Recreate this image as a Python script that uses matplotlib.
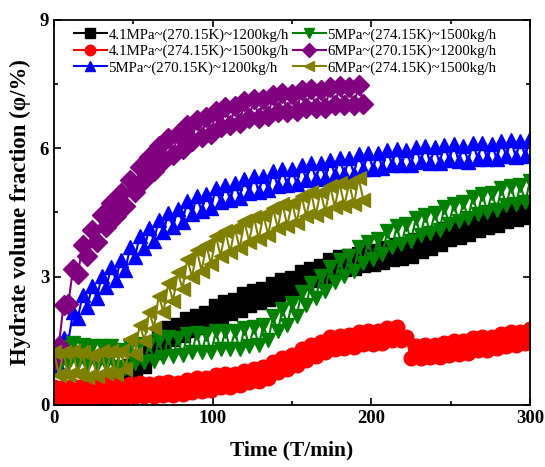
import matplotlib
matplotlib.use("Agg")
import matplotlib.pyplot as plt
from matplotlib.ticker import MultipleLocator

plt.rcParams['font.family'] = ['Liberation Serif', 'DejaVu Serif']

t_full = list(range(0, 301, 3))
t_short = list(range(0, 196, 3))

labels = ["4.1MPa~(270.15K)~1200kg/h", "4.1MPa~(274.15K)~1500kg/h",
          "5MPa~(270.15K)~1200kg/h", "5MPa~(274.15K)~1500kg/h",
          "6MPa~(270.15K)~1200kg/h", "6MPa~(274.15K)~1500kg/h"]

black_41_270 = [0.21, 0.00, 0.19, 0.00, 0.25, 0.00, 0.27, 0.00, 0.27, 0.01, 0.36, 0.16, 0.55, 0.36, 0.73,
                0.52, 0.90, 0.68, 1.08, 0.92, 1.38, 1.24, 1.68, 1.47, 1.81, 1.55, 1.88, 1.63, 2.00, 1.75,
                2.09, 1.82, 2.15, 1.94, 2.31, 2.07, 2.40, 2.14, 2.46, 2.22, 2.59, 2.34, 2.67, 2.41, 2.72,
                2.47, 2.83, 2.58, 2.92, 2.65, 2.97, 2.73, 3.10, 2.85, 3.19, 2.93, 3.26, 3.01, 3.38, 3.13,
                3.46, 3.17, 3.48, 3.20, 3.54, 3.27, 3.58, 3.29, 3.60, 3.34, 3.68, 3.41, 3.73, 3.44, 3.75,
                3.49, 3.85, 3.61, 3.94, 3.68, 4.01, 3.76, 4.12, 3.88, 4.20, 3.93, 4.25, 3.99, 4.35, 4.09,
                4.42, 4.15, 4.46, 4.21, 4.56, 4.30, 4.62, 4.34, 4.65, 4.39, 4.74]
red_41_274 = [0.41, 0.12, 0.41, 0.14, 0.45, 0.14, 0.45, 0.16, 0.46, 0.18, 0.51, 0.21, 0.49, 0.17, 0.45,
              0.17, 0.50, 0.21, 0.51, 0.20, 0.48, 0.20, 0.52, 0.24, 0.53, 0.23, 0.52, 0.25, 0.58, 0.31,
              0.62, 0.33, 0.63, 0.35, 0.69, 0.42, 0.72, 0.43, 0.73, 0.46, 0.80, 0.53, 0.85, 0.57, 0.89,
              0.64, 1.01, 0.77, 1.10, 0.84, 1.17, 0.93, 1.30, 1.05, 1.40, 1.15, 1.48, 1.23, 1.58, 1.31,
              1.62, 1.33, 1.64, 1.36, 1.70, 1.43, 1.73, 1.43, 1.73, 1.45, 1.79, 1.52, 1.82, 1.52, 1.58,
              1.09, 1.39, 1.09, 1.40, 1.11, 1.41, 1.13, 1.46, 1.18, 1.49, 1.20, 1.50, 1.22, 1.56, 1.28,
              1.58, 1.29, 1.59, 1.33, 1.67, 1.39, 1.70, 1.41, 1.71, 1.44, 1.78]
blue_5_270 = [0.93, 0.91, 1.56, 1.49, 2.17, 2.04, 2.56, 2.30, 2.77, 2.50, 3.01, 2.75, 3.22, 2.93, 3.39,
              3.15, 3.70, 3.45, 3.95, 3.67, 4.13, 3.84, 4.33, 4.04, 4.48, 4.16, 4.58, 4.28, 4.77, 4.46,
              4.88, 4.53, 4.93, 4.60, 5.07, 4.74, 5.15, 4.79, 5.18, 4.84, 5.29, 4.95, 5.35, 4.98, 5.36,
              5.02, 5.46, 5.12, 5.51, 5.14, 5.51, 5.16, 5.61, 5.26, 5.66, 5.28, 5.65, 5.30, 5.73, 5.38,
              5.77, 5.39, 5.77, 5.41, 5.86, 5.51, 5.90, 5.52, 5.88, 5.53, 5.97, 5.61, 5.99, 5.61, 5.97,
              5.61, 6.04, 5.67, 6.06, 5.66, 6.02, 5.66, 6.08, 5.72, 6.09, 5.70, 6.06, 5.69, 6.12, 5.76,
              6.13, 5.74, 6.10, 5.74, 6.17, 5.81, 6.19, 5.80, 6.16, 5.81, 6.24]
green_5_274 = [1.34, 0.91, 1.35, 0.95, 1.44, 1.01, 1.41, 0.94, 1.38, 0.94, 1.39, 0.96, 1.38, 0.89, 1.29,
               0.86, 1.37, 0.97, 1.43, 1.00, 1.43, 1.02, 1.53, 1.12, 1.58, 1.14, 1.57, 1.16, 1.66, 1.24,
               1.68, 1.23, 1.65, 1.23, 1.72, 1.30, 1.74, 1.30, 1.72, 1.30, 1.79, 1.38, 1.83, 1.40, 1.87,
               1.51, 2.07, 1.72, 2.24, 1.88, 2.39, 2.07, 2.65, 2.33, 2.86, 2.50, 3.01, 2.67, 3.23, 2.88,
               3.39, 3.01, 3.49, 3.14, 3.69, 3.33, 3.82, 3.42, 3.89, 3.52, 4.06, 3.69, 4.18, 3.76, 4.22,
               3.84, 4.36, 3.97, 4.44, 4.03, 4.49, 4.10, 4.62, 4.24, 4.71, 4.29, 4.74, 4.36, 4.87, 4.47,
               4.94, 4.52, 4.96, 4.56, 5.07, 4.67, 5.13, 4.70, 5.14, 4.74, 5.24]
purple_6_270 = [1.05, 1.38, 2.34, 2.36, 3.19, 3.06, 3.73, 3.49, 4.08, 3.81, 4.44, 4.16, 4.73, 4.41, 4.95,
                4.66, 5.27, 4.98, 5.57, 5.25, 5.79, 5.47, 6.05, 5.71, 6.23, 5.85, 6.34, 5.98, 6.54, 6.17,
                6.67, 6.26, 6.73, 6.34, 6.87, 6.49, 6.96, 6.54, 6.99, 6.59, 7.10, 6.70, 7.16, 6.72, 7.16,
                6.75, 7.25, 6.85, 7.29, 6.85, 7.28, 6.87, 7.36, 6.95, 7.39, 6.95, 7.37, 6.95, 7.44, 7.02,
                7.46, 7.01, 7.43, 7.01, 7.48, 7.03]
olive_6_274 = [1.24, 0.71, 1.23, 0.70, 1.26, 0.72, 1.23, 0.66, 1.17, 0.67, 1.26, 0.75, 1.27, 0.72, 1.26,
               0.83, 1.55, 1.19, 1.88, 1.50, 2.18, 1.81, 2.55, 2.18, 2.84, 2.43, 3.10, 2.72, 3.41, 2.99,
               3.62, 3.14, 3.73, 3.29, 3.94, 3.49, 4.07, 3.57, 4.13, 3.66, 4.29, 3.82, 4.39, 3.88, 4.44,
               3.97, 4.60, 4.14, 4.70, 4.19, 4.73, 4.26, 4.89, 4.41, 4.97, 4.45, 4.99, 4.51, 5.12, 4.63,
               5.19, 4.66, 5.19, 4.70, 5.30, 4.79]

series = [
    (t_full, black_41_270, 'black', 's'),
    (t_full, red_41_274, 'red', 'o'),
    (t_full, blue_5_270, 'blue', '^'),
    (t_full, green_5_274, 'green', 'v'),
    (t_short, purple_6_270, 'purple', 'D'),
    (t_short, olive_6_274, 'olive', '<'),
]

fig = plt.figure(figsize=(5.45, 4.67), dpi=100)
ax = fig.add_axes([0.0991, 0.1328, 0.8734, 0.8244])

for (tt, yy, c, m), lab in zip(series, labels):
    ax.plot(tt, yy, color=c, marker=m, markersize=10.5, linewidth=1.5, label=lab)

ax.set_xlim(0, 300)
ax.set_ylim(0, 9)
ax.xaxis.set_major_locator(MultipleLocator(100))
ax.xaxis.set_minor_locator(MultipleLocator(50))
ax.yaxis.set_major_locator(MultipleLocator(3))
ax.yaxis.set_minor_locator(MultipleLocator(1.5))
ax.tick_params(which='both', direction='in', top=True, right=True, width=1.2)
ax.tick_params(which='major', length=5, labelsize=13.5)
ax.tick_params(which='minor', length=3)
for lbl in ax.get_xticklabels() + ax.get_yticklabels():
    lbl.set_fontweight('bold')
for sp in ax.spines.values():
    sp.set_linewidth(1.3)

ax.set_xlabel('Time (T/min)', fontsize=15.5, fontweight='bold', labelpad=10)
ax.set_ylabel('Hydrate volume fraction (φ/%)', fontsize=16.5, fontweight='bold', labelpad=6)

leg = ax.legend(loc='upper left', ncol=2, frameon=False, fontsize=10.7,
                markerscale=0.72, handlelength=2.2, handletextpad=0.1,
                columnspacing=0.3, labelspacing=0.2,
                bbox_to_anchor=(0.025, 1.0), borderaxespad=0.15)

fig.savefig('out.png', dpi=100)
